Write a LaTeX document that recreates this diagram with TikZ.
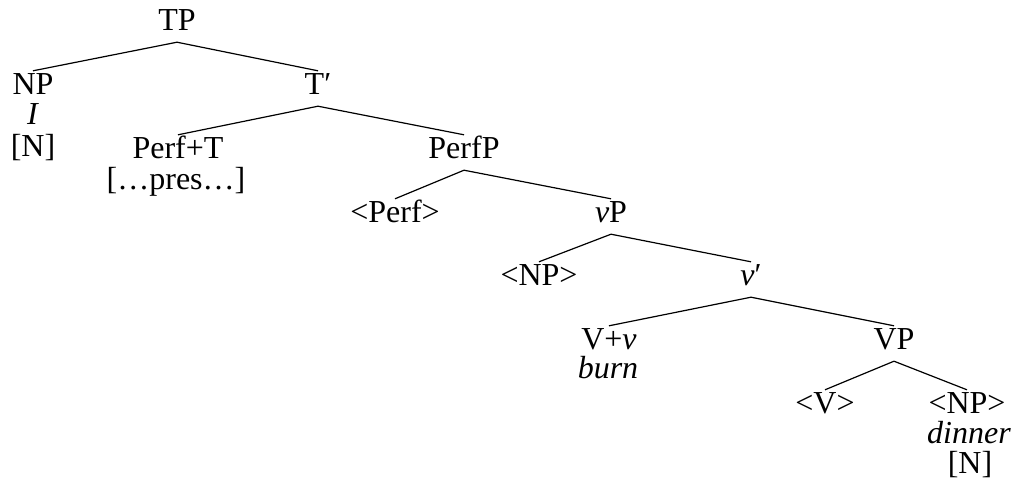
\documentclass[tikz,border=0pt]{standalone}
\usepackage{fontspec}
\setmainfont{Liberation Serif}
\newcommand\treefs{\fontsize{32}{30}\selectfont}
\tikzset{
  lab/.style={anchor=base, inner sep=0pt, font=\treefs},
  cat/.style={lab, text height=21pt, text depth=10pt, inner ysep=2pt},
  branch/.style={draw=black, line width=1.2pt}
}
\begin{document}
\begin{tikzpicture}[x=1pt,y=-1pt]
\useasboundingbox (0,0) rectangle (1012,482);
\node[cat] (tp) at (177,30) {TP};
\node[cat] (np) at (33,94) {NP};
\node[lab] (npI) at (33,124) {\textit{I}};
\node[lab] (npN) at (33,156) {[N]};
\node[cat] (tbar) at (318,94) {T′};
\node[cat] (perft) at (178,158) {Perf+T};
\node[lab] (pres) at (176,189) {[…pres…]};
\node[cat] (perfp) at (464,158) {PerfP};
\node[cat] (perf) at (395,222) {<Perf>};
\node[cat] (littlevp) at (611,222) {\textit{v}P};
\node[cat] (np2) at (539,285) {<NP>};
\node[cat] (vbar) at (751,285) {\textit{v}′};
\node[cat] (vv) at (609,349) {V+\textit{v}};
\node[lab] (burn) at (608,378) {\textit{burn}};
\node[cat] (bigvp) at (894,349) {VP};
\node[cat] (vtrace) at (825,413) {<V>};
\node[cat] (np3) at (967,413) {<NP>};
\node[lab] (dinner) at (969,443) {\textit{dinner}};
\node[lab] (n3) at (970,473) {[N]};
\draw[branch] (np.north) -- (tp.south) -- (tbar.north);
\draw[branch] (perft.north) -- (tbar.south) -- (perfp.north);
\draw[branch] (perf.north) -- (perfp.south) -- (littlevp.north);
\draw[branch] (np2.north) -- (littlevp.south) -- (vbar.north);
\draw[branch] (vv.north) -- (vbar.south) -- (bigvp.north);
\draw[branch] (vtrace.north) -- (bigvp.south) -- (np3.north);
\end{tikzpicture}
\end{document}
